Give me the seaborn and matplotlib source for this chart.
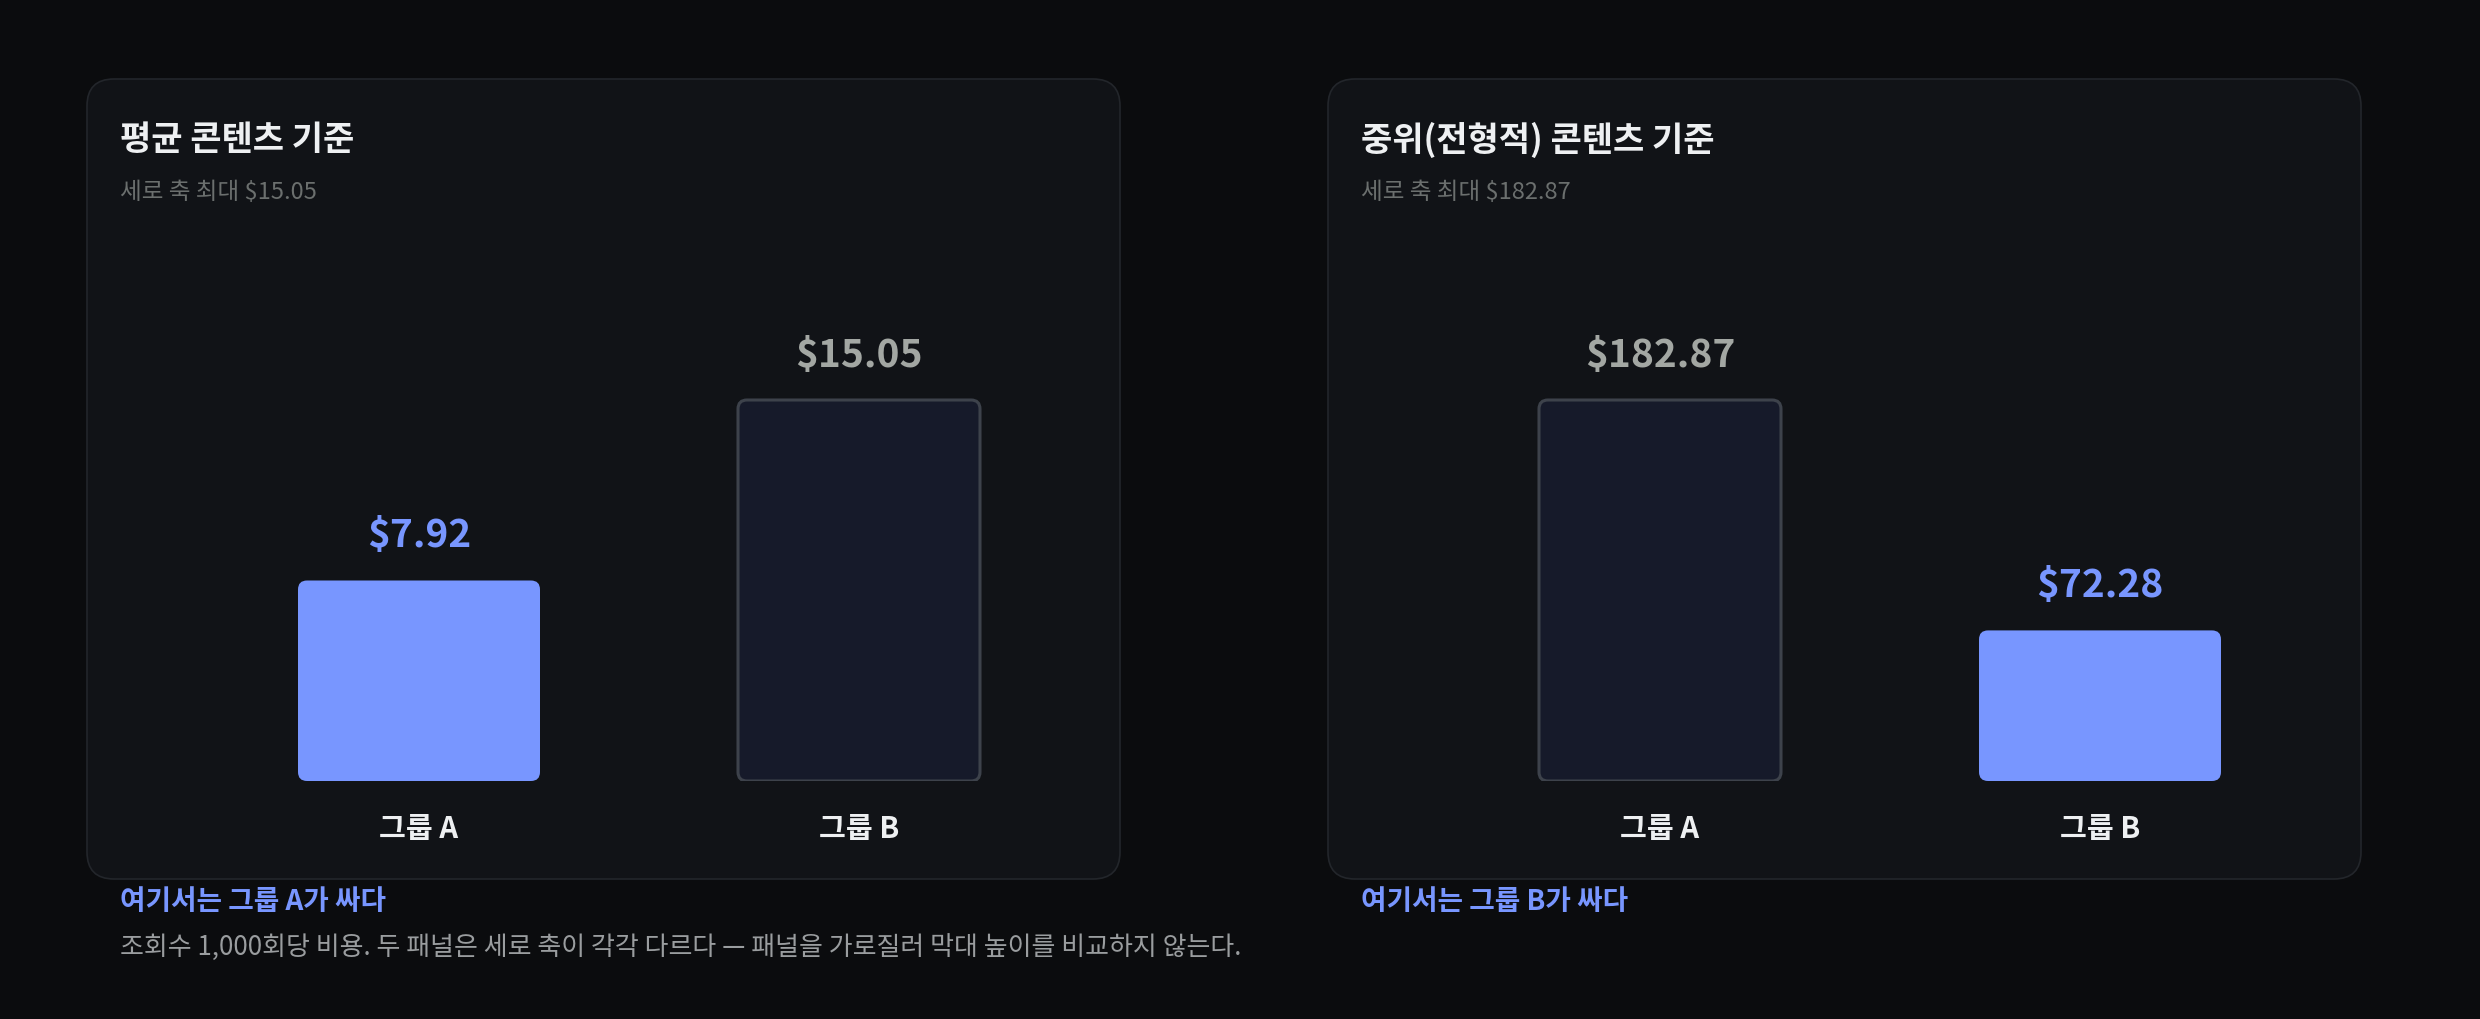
import numpy as np
import pandas as pd
import seaborn as sns
import matplotlib.pyplot as plt
from matplotlib.patches import FancyBboxPatch

groups = ["그룹 A", "그룹 B"]
mean_costs = [7.92, 15.05]
median_costs = [182.87, 72.28]

panel_titles = ["평균 콘텐츠 기준", "중위(전형적) 콘텐츠 기준"]
panel_notes = ["여기서는 그룹 A가 싸다", "여기서는 그룹 B가 싸다"]
footnote = "조회수 1,000회당 비용. 두 패널은 세로 축이 각각 다르다 — 패널을 가로질러 막대 높이를 비교하지 않는다."

BG = "#0b0c0e"
PANEL = "#111317"
PANEL_EDGE = "#23262b"
BLUE = "#7896ff"
DARK_BAR = "#161a2a"
DARK_EDGE = "#3d424b"
GRAY_VAL = "#a3a7a3"
SUB = "#6b6f6e"
WHITE = "#eef0f2"
FOOT = "#9a9d9f"

sns.set_theme(style="dark")
plt.rcParams['font.family'] = ['Noto Sans CJK KR', 'DejaVu Sans']

W, H = 2480, 1020
fig = plt.figure(figsize=(W / 100, H / 100), dpi=100, facecolor=BG)

panel_x = [87, 1328]
panel_w = 1033
panel_top, panel_bot = 80, 880
dy = 2  # small vertical nudge

for i, values in enumerate([mean_costs, median_costs]):
    px0 = panel_x[i]
    # panel card behind the axes
    card = FancyBboxPatch((px0 / W, 1 - panel_bot / H), panel_w / W, (panel_bot - panel_top) / H,
                          boxstyle="round,pad=0,rounding_size=%f" % (27 / W),
                          mutation_aspect=W / H, transform=fig.transFigure,
                          facecolor=PANEL, edgecolor=PANEL_EDGE, linewidth=1.2, zorder=-1)
    fig.patches.append(card)

    vmax = max(values)
    fig.text((px0 + 33) / W, 1 - (138 + dy) / H, panel_titles[i], color=WHITE, fontsize=24.5,
             fontweight="bold", ha="left", va="center")
    fig.text((px0 + 33) / W, 1 - (190 + dy) / H, "세로 축 최대 $%.2f" % vmax, color=SUB, fontsize=17,
             ha="left", va="center")
    fig.text((px0 + 33) / W, 1 - (900 + dy) / H, panel_notes[i], color=BLUE, fontsize=20,
             fontweight="bold", ha="left", va="center")

    # axes: centers at px0+332 and px0+772, y=0 at 780px, max at 399px
    ax_left = px0 + 332 - 220
    ax_h = 381 * 1.2
    ax = fig.add_axes([ax_left / W, 1 - (780 + dy) / H, 880 / W, ax_h / H])
    ax.set_facecolor("none")

    cheap = int(np.argmin(values))
    colors = {g: (BLUE if j == cheap else DARK_BAR) for j, g in enumerate(groups)}
    df = pd.DataFrame({"group": groups, "cost": values})
    sns.barplot(data=df, x="group", y="cost", hue="group", palette=colors, saturation=1,
                order=groups, width=0.55, legend=False, ax=ax)
    ax.set_xlim(-0.5, 1.5)
    ax.set_ylim(0, vmax * 1.2)

    px_per_x = 880 / 2
    px_per_y = ax_h / (vmax * 1.2)
    for j, bar in enumerate(list(ax.patches)):
        x, y = bar.get_x(), bar.get_y()
        w, h = bar.get_width(), bar.get_height()
        fc = bar.get_facecolor()
        bar.remove()
        is_cheap = (j == cheap)
        rb = FancyBboxPatch((x, y), w, h,
                            boxstyle="round,pad=0,rounding_size=%f" % (9 / px_per_x),
                            mutation_aspect=px_per_x / px_per_y,
                            facecolor=fc, edgecolor=(fc if is_cheap else DARK_EDGE),
                            linewidth=(0 if is_cheap else 2.2), zorder=2)
        ax.add_patch(rb)
        ax.annotate("$%.2f" % h, (x + w / 2, h), xytext=(0, 33), textcoords="offset points",
                    ha="center", va="center", fontsize=28, fontweight="bold",
                    color=(BLUE if is_cheap else GRAY_VAL))

    ax.set_xlabel("")
    ax.set_ylabel("")
    ax.set_yticks([])
    ax.tick_params(axis="x", length=0, pad=23, labelsize=21, labelcolor=WHITE)
    for lab in ax.get_xticklabels():
        lab.set_fontweight("bold")
    ax.grid(False)
    for s in ax.spines.values():
        s.set_visible(False)

fig.text(120 / W, 1 - (946 + dy) / H, footnote, color=FOOT, fontsize=18.7, ha="left", va="center")

fig.savefig("out.png", dpi=100, facecolor=BG)
